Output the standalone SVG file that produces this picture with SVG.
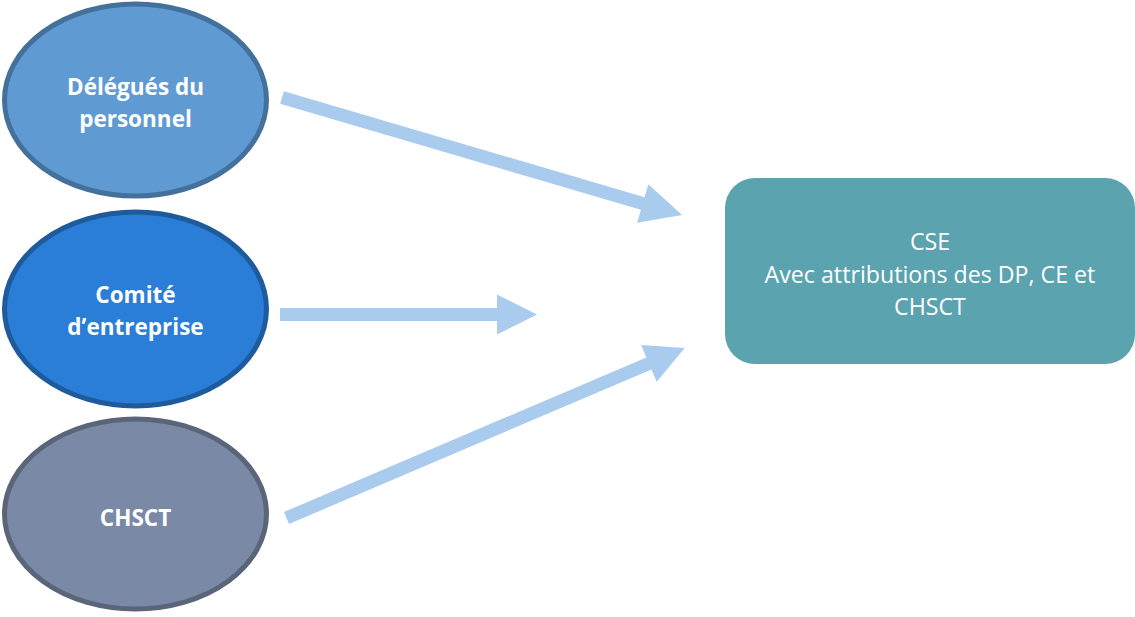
<svg xmlns="http://www.w3.org/2000/svg" width="1135" height="617" viewBox="0 0 1135 617">
  <style>
    .bubble { stroke-width: 5; }
    .lbl { font-family: "Open Sans", "Liberation Sans", sans-serif; font-weight: bold; font-size: 22.500px; fill: #ffffff; text-anchor: middle; }
    .cse { font-family: "Open Sans", "Liberation Sans", sans-serif; font-size: 23.200px; fill: #ffffff; text-anchor: middle; }
    .arrow { fill: #a9cbee; }
  </style>
  <rect width="1135" height="617" fill="#ffffff"/>

  <!-- Left-hand bodies -->
  <g id="node-dp">
    <ellipse class="bubble" cx="135.500" cy="100" rx="131" ry="96" fill="#5f9bd2" stroke="#44719b"/>
    <text class="lbl" x="135.500" y="95">Délégués du</text>
    <text class="lbl" x="135.500" y="127">personnel</text>
  </g>
  <g id="node-ce">
    <ellipse class="bubble" cx="135.500" cy="309" rx="131" ry="97" fill="#2a7ed7" stroke="#1d5b9c"/>
    <text class="lbl" x="135.500" y="303">Comité</text>
    <text class="lbl" x="135.500" y="335">d’entreprise</text>
  </g>
  <g id="node-chsct">
    <ellipse class="bubble" cx="135.500" cy="514" rx="131" ry="95" fill="#7a8aa6" stroke="#5a6579"/>
    <text class="lbl" x="135.500" y="526">CHSCT</text>
  </g>

  <!-- Merged body -->
  <g id="node-cse">
    <rect x="725" y="178" width="410" height="186" rx="30" ry="30" fill="#5ba3ae"/>
    <text class="cse" x="930" y="250">CSE</text>
    <text class="cse" x="930" y="283">Avec attributions des DP, CE et</text>
    <text class="cse" x="930" y="315">CHSCT</text>
  </g>

  <!-- Block arrows -->
  <g id="connectors">
    <path class="arrow" transform="translate(282 97.500) rotate(16.37)" d="M0,-6.500 L376,-6.500 L376,-20 L417,0 L376,20 L376,6.500 L0,6.500 Z"/>
    <path class="arrow" transform="translate(280 314.500)" d="M0,-6.500 L217,-6.500 L217,-20 L257,0 L217,20 L217,6.500 L0,6.500 Z"/>
    <path class="arrow" transform="translate(286.500 518) rotate(-23.1)" d="M0,-6.500 L394,-6.500 L394,-20 L433,0 L394,20 L394,6.500 L0,6.500 Z"/>
  </g>
</svg>
